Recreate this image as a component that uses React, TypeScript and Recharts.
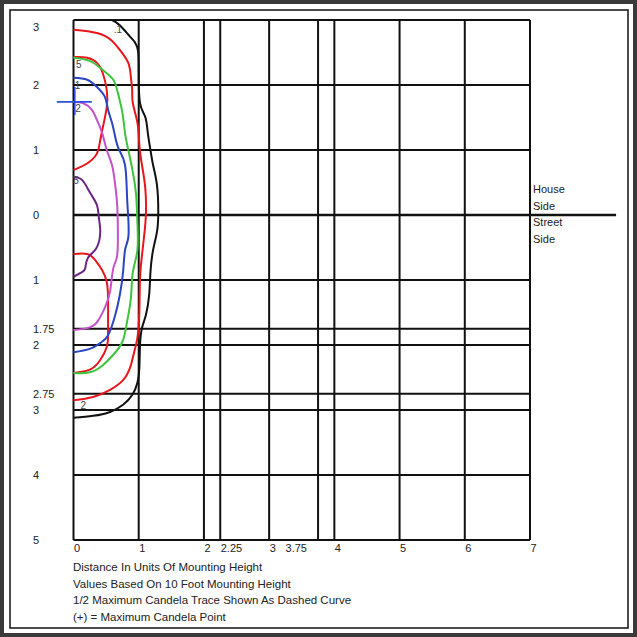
import React from 'react';
import {
  LineChart,
  Line,
  XAxis,
  YAxis,
  CartesianGrid,
  ReferenceLine,
  Scatter,
} from 'recharts';

// grid lines in units of mounting height (negative = street side)
const xTicks = [0, 1, 2, 2.25, 3, 3.75, 4, 5, 6, 7];
const yTicks = [3, 2, 1, 0, -1, -1.75, -2, -2.75, -3, -4, -5];

// isofootcandle traces, [distance across, distance along]
const trace01 = [
  [0.59, 3.0], [0.71, 2.92], [0.87, 2.74], [0.94, 2.66], [0.99, 2.52], [1.0, 2.18],
  [1.02, 1.72], [1.1, 1.51], [1.14, 1.26], [1.18, 1.0], [1.22, 0.77], [1.28, 0.46],
  [1.3, 0.05], [1.28, -0.26], [1.22, -0.54], [1.18, -0.88], [1.16, -1.23], [1.11, -1.54],
  [1.05, -1.74], [1.02, -2.0], [1.01, -2.34], [0.98, -2.58], [0.9, -2.77], [0.76, -2.92],
  [0.56, -3.03], [0.3, -3.09], [0, -3.12],
];
const trace02 = [
  [0, 2.85], [0.36, 2.8], [0.58, 2.69], [0.71, 2.54], [0.84, 2.34], [0.88, 2.12],
  [0.9, 1.92], [0.91, 1.72], [0.98, 1.42], [1.01, 1.08], [1.05, 0.77], [1.1, 0.42],
  [1.11, 0.0], [1.08, -0.35], [1.05, -0.62], [1.02, -0.97], [1.01, -1.49], [0.98, -1.89],
  [0.93, -2.11], [0.87, -2.34], [0.76, -2.54], [0.56, -2.69], [0.3, -2.8], [0, -2.85],
];
const trace05Upper = [
  [0, 2.43], [0.21, 2.42], [0.36, 2.34], [0.45, 2.18], [0.51, 1.92], [0.51, 1.66],
  [0.45, 1.35], [0.41, 1.15], [0.38, 1.0], [0.33, 0.9], [0.22, 0.8], [0.07, 0.72], [0, 0.69],
];
const trace05Lower = [
  [0, -0.6], [0.21, -0.6], [0.33, -0.69], [0.44, -0.85], [0.51, -1.03], [0.53, -1.28],
  [0.53, -1.58], [0.53, -1.85], [0.51, -2.03], [0.41, -2.23], [0.25, -2.38], [0, -2.43],
];
const traceGreen = [
  [0, 2.42], [0.25, 2.37], [0.45, 2.23], [0.61, 2.08], [0.68, 1.88], [0.75, 1.57],
  [0.79, 1.26], [0.84, 1.0], [0.91, 0.66], [0.96, 0.31], [0.98, -0.11], [0.98, -0.54],
  [0.91, -0.88], [0.88, -1.28], [0.82, -1.65], [0.75, -1.95], [0.61, -2.15], [0.45, -2.31],
  [0.25, -2.42], [0, -2.43],
];
const trace1 = [
  [0, 2.11], [0.21, 2.08], [0.36, 1.97], [0.48, 1.82], [0.53, 1.62], [0.59, 1.42],
  [0.64, 1.2], [0.7, 1.0], [0.79, 0.77], [0.82, 0.31], [0.84, -0.05], [0.84, -0.35],
  [0.79, -0.54], [0.76, -0.88], [0.71, -1.23], [0.64, -1.54], [0.53, -1.85], [0.41, -1.97],
  [0.25, -2.06], [0, -2.11],
];
const trace2 = [
  [0, 1.74], [0.15, 1.72], [0.28, 1.62], [0.36, 1.46], [0.44, 1.26], [0.51, 1.0],
  [0.59, 0.77], [0.64, 0.46], [0.67, 0.15], [0.68, -0.2], [0.67, -0.62], [0.61, -0.82],
  [0.56, -1.18], [0.48, -1.43], [0.36, -1.65], [0.21, -1.74], [0, -1.77],
];
const trace5 = [
  [0, 0.58], [0.13, 0.54], [0.25, 0.35], [0.36, 0.15], [0.39, -0.05], [0.41, -0.26],
  [0.35, -0.51], [0.22, -0.66], [0.18, -0.82], [0.13, -0.88], [0, -0.95],
];

const traceLabels = ['.1', '5', '1', '2', '5', '2'];
const traceLabelX = [0.68, 0.08, 0.06, 0.07, 0.04, 0.15];
const traceLabelY = [2.86, 2.33, 2.0, 1.65, 0.54, -2.93];

const maxCandela = [{ x: 0.02, y: 1.74 }];

const footerLines = [
  'Distance In Units Of Mounting Height',
  'Values Based On 10 Foot Mounting Height',
  '1/2 Maximum Candela Trace Shown As Dashed Curve',
  '(+) = Maximum Candela Point',
];
const sideLabels = ['House', 'Side', 'Street', 'Side'];

const toPoints = (pts: number[][]) => pts.map(([x, y]) => ({ x, y }));

const font = '"Liberation Sans", Arial, sans-serif';

const XTick = (props: any) => {
  const v = props.payload.value;
  const shift = v === 3.75 ? -33 : 0;
  return (
    <text x={props.x + 0.5 + shift} y={552} fontSize={11} fill="#222" fontFamily={font} textAnchor="start">
      {v}
    </text>
  );
};

const YTick = (props: any) => {
  const v = props.payload.value;
  const drop = v === 3 ? 7 : 0;
  return (
    <text x={33} y={props.y + 4 + drop} fontSize={11} fill="#222" fontFamily={font} textAnchor="start">
      {Math.abs(v)}
    </text>
  );
};

const LabelShape = (props: any) => (
  <text x={props.cx} y={props.cy + 4} fontSize={10} fill="#444" fontFamily={font} textAnchor="middle">
    {props.payload.text}
  </text>
);

const CrossShape = (props: any) => (
  <g stroke="#2b4fd6" strokeWidth={1.6}>
    <line x1={props.cx - 18} y1={props.cy} x2={props.cx + 17} y2={props.cy} />
    <line x1={props.cx} y1={props.cy - 15} x2={props.cx} y2={props.cy + 13} />
  </g>
);

export default function App() {
  const labelData = traceLabels.map((text, i) => ({ x: traceLabelX[i], y: traceLabelY[i], text }));
  const series = [
    { pts: trace01, color: '#111111' },
    { pts: trace02, color: '#e8161b' },
    { pts: trace05Upper, color: '#e8161b' },
    { pts: trace05Lower, color: '#e8161b' },
    { pts: traceGreen, color: '#3cc43c' },
    { pts: trace1, color: '#2a45c4' },
    { pts: trace2, color: '#c452c8' },
    { pts: trace5, color: '#6a2486' },
  ];

  return (
    <div style={{ position: 'absolute', left: 0, top: 0, width: 637, height: 637, background: '#fff' }}>
      <LineChart
        width={637}
        height={637}
        margin={{ top: 20, right: 107, bottom: 67, left: 33.5 }}
      >
        <CartesianGrid stroke="#111" strokeWidth={2} horizontal vertical />
        <XAxis
          dataKey="x"
          type="number"
          domain={[0, 7]}
          ticks={xTicks}
          interval={0}
          axisLine={false}
          tickLine={false}
          height={30}
          tick={<XTick />}
        />
        <YAxis
          dataKey="y"
          type="number"
          domain={[-5, 3]}
          ticks={yTicks}
          interval={0}
          axisLine={false}
          tickLine={false}
          width={40}
          tick={<YTick />}
        />
        <ReferenceLine y={0} stroke="#111" strokeWidth={2.5} />
        <ReferenceLine
          segment={[{ x: 7, y: 0 }, { x: 8.32, y: 0 }]}
          stroke="#111"
          strokeWidth={2.5}
          ifOverflow="visible"
        />
        {series.map((s, i) => (
          <Line
            key={i}
            data={toPoints(s.pts)}
            dataKey="y"
            type="natural"
            stroke={s.color}
            strokeWidth={2}
            dot={false}
            activeDot={false}
            isAnimationActive={false}
          />
        ))}
        <Scatter data={labelData} dataKey="y" shape={<LabelShape />} isAnimationActive={false} />
        <Scatter data={maxCandela} dataKey="y" shape={<CrossShape />} isAnimationActive={false} />
      </LineChart>
      <svg
        width={637}
        height={637}
        style={{ position: 'absolute', left: 0, top: 0, pointerEvents: 'none' }}
      >
        <rect x={2} y={2} width={633} height={633} fill="none" stroke="#3a3a3a" strokeWidth={4} />
        <rect x={10} y={10} width={618} height={618} fill="none" stroke="#111" strokeWidth={1.5} />
        {footerLines.map((t, i) => (
          <text key={t} x={73} y={571 + i * 16.5} fontSize={11.5} fill="#222" fontFamily={font}>
            {t}
          </text>
        ))}
        {sideLabels.map((t, i) => (
          <text key={i} x={533} y={193 + i * 16.5} fontSize={11} fill="#222" fontFamily={font}>
            {t}
          </text>
        ))}
      </svg>
    </div>
  );
}
